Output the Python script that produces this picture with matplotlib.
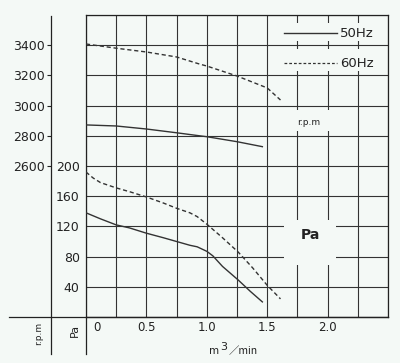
import numpy as np
import matplotlib
matplotlib.use("Agg")
import matplotlib.pyplot as plt
from matplotlib.patches import Rectangle

# static pressure (Pa) vs air flow (m3/min)
flow_50_pa = [0, 0.12, 0.25, 0.36, 0.5, 0.64, 0.75, 0.86, 0.92, 1.0, 1.05, 1.13, 1.26, 1.36, 1.46]
pa_50 = [138, 130, 122, 118, 111, 105, 100, 95, 93, 87, 81, 67, 49, 34, 20]
flow_60_pa = [0, 0.06, 0.12, 0.25, 0.36, 0.5, 0.64, 0.75, 0.86, 0.92, 1.0, 1.13, 1.26, 1.38, 1.5, 1.61]
pa_60 = [192, 184, 178, 171, 166, 159, 151, 144, 138, 133, 123, 105, 86, 65, 42, 24]

# speed (r.p.m) vs air flow
flow_50_rpm = [0, 0.25, 0.5, 0.75, 0.94, 1.0, 1.25, 1.46]
rpm_50 = [2872, 2865, 2845, 2820, 2800, 2794, 2761, 2728]
flow_60_rpm = [0, 0.25, 0.5, 0.75, 0.94, 1.0, 1.25, 1.5, 1.61]
rpm_60 = [3408, 3380, 3355, 3322, 3275, 3262, 3196, 3117, 3037]

x_ticks = [0, 0.5, 1.0, 1.5, 2.0]
pa_ticks = [40, 80, 120, 160, 200]
rpm_ticks = [2600, 2800, 3000, 3200, 3400]

BG = "#f4f9f6"
INK = "#222222"
CURVE = "#333333"

fig = plt.figure(figsize=(4, 3.63), dpi=100, facecolor=BG)
ax = fig.add_axes([0.215, 0.1267, 0.755, 0.832], facecolor=BG)

ax.set_xlim(0, 2.5)
ax.set_ylim(0, 400)

# grid
ax.set_xticks(x_ticks)
ax.set_xticks(np.arange(0, 2.51, 0.25), minor=True)
ax.set_yticks(pa_ticks)
ax.set_yticks(np.arange(0, 401, 40), minor=True)
ax.grid(which="both", color=CURVE, lw=0.8)
ax.tick_params(which="both", length=0)
ax.tick_params(axis="y", labelsize=9, pad=4.5, colors=INK)
ax.tick_params(axis="x", labelsize=8.5, pad=3, colors=INK)
ax.set_xticklabels([""] + [f"{v:.1f}" for v in x_ticks[1:]])
ax.annotate("0", (0, 0), xytext=(5, -3), textcoords="offset points",
            ha="left", va="top", fontsize=8.5, color=INK)
for s in ax.spines.values():
    s.set_color(INK)
    s.set_linewidth(0.9)

# pressure curves
ax.plot(flow_50_pa, pa_50, color=CURVE, lw=1, zorder=3)
ax.plot(flow_60_pa, pa_60, color=CURVE, lw=1, ls=(0, (3, 2)), zorder=3)

# rpm axis
ax2 = ax.twinx()
ax2.set_ylim(1600, 3600)
ax2.yaxis.set_ticks_position("left")
ax2.spines["left"].set_position(("axes", -0.116))
for s in ax2.spines.values():
    s.set_visible(False)
ax2.set_yticks(rpm_ticks)
ax2.tick_params(axis="y", direction="out", length=3, width=0.8, pad=1.5,
                labelsize=9, colors=INK)
ax2.plot(flow_50_rpm, rpm_50, color=CURVE, lw=1, zorder=3)
ax2.plot(flow_60_rpm, rpm_60, color=CURVE, lw=1, ls=(0, (3, 2)), zorder=3)

# frame lines outside the grid
kw = dict(transform=ax.transAxes, clip_on=False, color=INK, lw=0.9)
ax.plot([-0.255, 1], [0, 0], **kw)
ax.plot([0, 0], [0, -0.1225], **kw)
ax.plot([-0.116, -0.116], [0.997, -0.1225], **kw)

ax.text(-0.156, -0.053, "r.p.m", transform=ax.transAxes, rotation=90,
        ha="center", va="center", fontsize=6.5, color=INK)
ax.text(-0.036, -0.043, "Pa", transform=ax.transAxes, rotation=90,
        ha="center", va="center", fontsize=8, color=INK)
ax.text(0.44, -0.1126, "m", transform=ax.transAxes, ha="right",
        va="center", fontsize=7.5, color=INK)
ax.text(0.444, -0.098, "3", transform=ax.transAxes, ha="left",
        va="center", fontsize=8, color=INK)
ax.text(0.472, -0.1126, "／min", transform=ax.transAxes, ha="left", va="center",
        fontsize=7.5, color=INK, family=["Noto Sans CJK JP", "DejaVu Sans"])

# blank boxes over the grid for legend and unit labels
for x0, x1, y0, y1 in [(1.606, 2.45, 365.6, 389.4), (1.606, 2.45, 325.8, 355),
                       (1.606, 2.103, 246.4, 274.2), (1.639, 2.07, 68.9, 128.5)]:
    ax.add_patch(Rectangle((x0, y0), x1 - x0, y1 - y0, facecolor=BG,
                           edgecolor="none", zorder=2))

ax.plot([1.64, 2.08], [376, 376], color=CURVE, lw=1, zorder=3)
ax.plot([1.64, 2.08], [336, 336], color=CURVE, lw=0.9, ls=(0, (2.2, 1.6)), zorder=3)
ax.text(2.10, 376, "50Hz", ha="left", va="center", fontsize=9.5, color=INK, zorder=4)
ax.text(2.10, 336, "60Hz", ha="left", va="center", fontsize=9.5, color=INK, zorder=4)
ax.text(1.846, 257, "r.p.m", ha="center", va="center", fontsize=6.5, color=INK, zorder=4)
ax.text(1.854, 108.6, "Pa", ha="center", va="center", fontsize=10,
        fontweight="bold", color=INK, zorder=4)

fig.savefig("out.png", dpi=100, facecolor=BG)
